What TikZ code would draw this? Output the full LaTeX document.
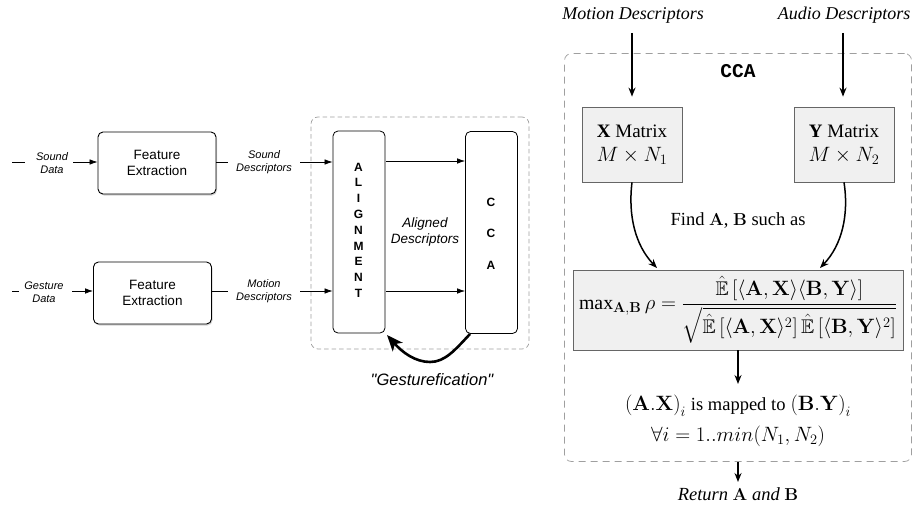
\documentclass[tikz,border=0pt]{standalone}
\usepackage{amsmath,amssymb}
\usepackage[no-math]{fontspec}
\setmainfont{Liberation Serif}
\newfontfamily\helv{Liberation Sans}
\newfontfamily\cour{Liberation Mono}
\usetikzlibrary{arrows.meta,shadows,calc}
\newcommand{\fsz}[1]{\fontsize{#1}{#1}\selectfont}
\begin{document}
\begin{tikzpicture}[x=1pt,y=-1pt,
  lbl/.style={font=\helv\itshape\fontsize{11}{12.5}\selectfont,align=center,inner sep=0pt},
  febox/.style={draw,rounded corners=5pt,minimum width=118pt,minimum height=62pt,fill=white,
    drop shadow={shadow xshift=1pt,shadow yshift=-1.5pt,opacity=0.35},
    font=\helv\fontsize{13.5}{15.5}\selectfont,align=center,line width=0.9pt},
  tallbox/.style={draw,rounded corners=5pt,minimum width=52pt,minimum height=202pt,fill=white,line width=0.8pt},
  thin/.style={line width=0.7pt},
  tarr/.style={line width=0.7pt,-{Latex[length=8pt,width=5.5pt]}},
  dbox/.style={draw=gray!75,dashed,rounded corners=7pt,line width=0.7pt},
  gbox/.style={draw=gray!80!black,fill=gray!12,line width=0.7pt},
  sarr/.style={line width=1.5pt,-{Stealth[length=9pt,width=7pt,inset=3pt]}},
  ser/.style={font=\fsz{18.5},inner sep=0pt},
  lett/.style={font=\helv\bfseries\fontsize{12}{12}\selectfont,inner sep=0pt}
]
\useasboundingbox (0,0) rectangle (912,508);

% ---------- left part ----------
\node[febox] (fe1) at (157,163) {Feature\\Extraction};
\node[febox] (fe2) at (152.5,293) {Feature\\Extraction};

\node[lbl] (sd) at (52,163) {Sound\\Data};
\node[lbl] (gd) at (44,292) {Gesture\\Data};
\coordinate (sd0) at (12,162);
\coordinate (sd1) at (25,162);
\coordinate (sd2) at (73,162);
\draw[thin] (sd0) -- (sd1);
\draw[tarr] (sd2) -- (fe1.west |- sd2);
\coordinate (gd0) at (12,291);
\coordinate (gd1) at (19,291);
\coordinate (gd2) at (72,291);
\draw[thin] (gd0) -- (gd1);
\draw[tarr] (gd2) -- (fe2.west |- gd2);

\node[dbox,dash pattern=on 4.5pt off 3pt,minimum width=218pt,minimum height=232pt] (lgrp) at (420,233) {};

\node[tallbox] (al) at (359,232) {};
\node[tallbox] (cca) at (491.5,232.5) {};

\node[lbl] (sdesc) at (264,162) {Sound\\Descriptors};
\node[lbl] (mdesc) at (264,291) {Motion\\Descriptors};
\coordinate (s1) at (228,162);
\coordinate (s2) at (300,162);
\coordinate (m1) at (228,291);
\coordinate (m2) at (300,291);
\draw[thin] (fe1.east |- s1) -- (s1);
\draw[tarr] (s2) -- (al.west |- s2);
\draw[thin] (fe2.east |- m1) -- (m1);
\draw[tarr] (m2) -- (al.west |- m2);

\coordinate (a1) at (386,161);
\coordinate (a2) at (386,291);
\draw[tarr] (a1) -- (cca.west |- a1);
\draw[tarr] (a2) -- (cca.west |- a2);

\node[lbl,font=\helv\itshape\fontsize{13.5}{15.5}\selectfont] (ad) at (425,232) {Aligned\\Descriptors};

\foreach \l [count=\i] in {A,L,I,G,N,M,E,N,T}
  \node[lett] (al\i) at (358.5,{167+15.8*(\i-1)}) {\l};
\node[lett] (c1) at (491,202) {C};
\node[lett] (c2) at (491,233) {C};
\node[lett] (c3) at (491,265) {A};

\coordinate (g0) at (470,334);
\coordinate (gm) at (430,362);
\coordinate (g1) at (387,335);
\draw[line width=2.6pt,-{Stealth[length=16pt,width=13pt,inset=4pt]}]
  (g0) .. controls (455,350) and (445,362) .. (gm) .. controls (415,362) and (402,352) .. (g1);
\node[font=\helv\itshape\fontsize{16.5}{18}\selectfont,inner sep=0pt] (gest) at (432,380) {"Gesturefication"};

% ---------- right part ----------
\node[dbox,dash pattern=on 7pt off 5pt,minimum width=347pt,minimum height=408pt] (rgrp) at (738,257.5) {};
\node[font=\cour\bfseries\fontsize{19.5}{21}\selectfont,inner sep=0pt] (ccat) at (738,71) {CCA};

\node[ser,font=\itshape\fsz{18}] (md) at (633,15) {Motion Descriptors};
\node[ser,font=\itshape\fsz{18}] (aud) at (844,15) {Audio Descriptors};

\node[gbox,minimum width=100pt,minimum height=75pt,align=center] (xm) at (632,144.5)
  {{\fsz{19}\textbf{X} Matrix}\\[9pt]{\fsz{21.5}$M\times N_1$}};
\node[gbox,minimum width=100pt,minimum height=75pt,align=center] (ym) at (844,144.5)
  {{\fsz{19}\textbf{Y} Matrix}\\[9pt]{\fsz{21.5}$M\times N_2$}};

\coordinate (md1) at (632,33);
\coordinate (aud1) at (843,33);
\draw[sarr] (md1) -- ($(xm.north)+(0,-10)$);
\draw[sarr] (aud1) -- ($(ym.north -| aud1)+(0,-10)$);

\node[ser] (find) at (738,221) {Find $\mathbf{A}$, $\mathbf{B}$ such as};

\node[gbox,minimum width=330pt,minimum height=80pt,inner xsep=0pt] (form) at (738,310)
 {\fsz{19.8}$\mathop{\text{max}}\nolimits_{\mathbf{A},\mathbf{B}}\rho=\dfrac{\hat{\mathbb{E}}\left[\langle\mathbf{A},\mathbf{X}\rangle\langle\mathbf{B},\mathbf{Y}\rangle\right]}{\sqrt{\hat{\mathbb{E}}\left[\langle\mathbf{A},\mathbf{X}\rangle^2\right]\hat{\mathbb{E}}\left[\langle\mathbf{B},\mathbf{Y}\rangle^2\right]}}$};

\coordinate (fx) at (657,268);
\coordinate (fy) at (820,268);
\draw[sarr] (xm.south) .. controls (628,215) and (635,245) .. (fx);
\draw[sarr] (ym.south) .. controls (849,215) and (842,245) .. (fy);

\node[align=center,inner sep=0pt] (map) at (738,421)
 {{\fsz{20}$\left(\mathbf{A}.\mathbf{X}\right)_i$ {\fsz{18.5}is mapped to} $\left(\mathbf{B}.\mathbf{Y}\right)_i$}\\[8pt]{\fsz{20.5}$\forall i=1..min(N_1,N_2)$}};
\coordinate (m0) at (738,384);
\draw[sarr] (form.south) -- (m0);

\coordinate (r0) at (738,462);
\coordinate (r1) at (738,482);
\draw[sarr] (r0) -- (r1);
\node[ser] (ret) at (738,494) {\textit{Return} $\mathbf{A}$ \textit{and} $\mathbf{B}$};
\end{tikzpicture}
\end{document}
